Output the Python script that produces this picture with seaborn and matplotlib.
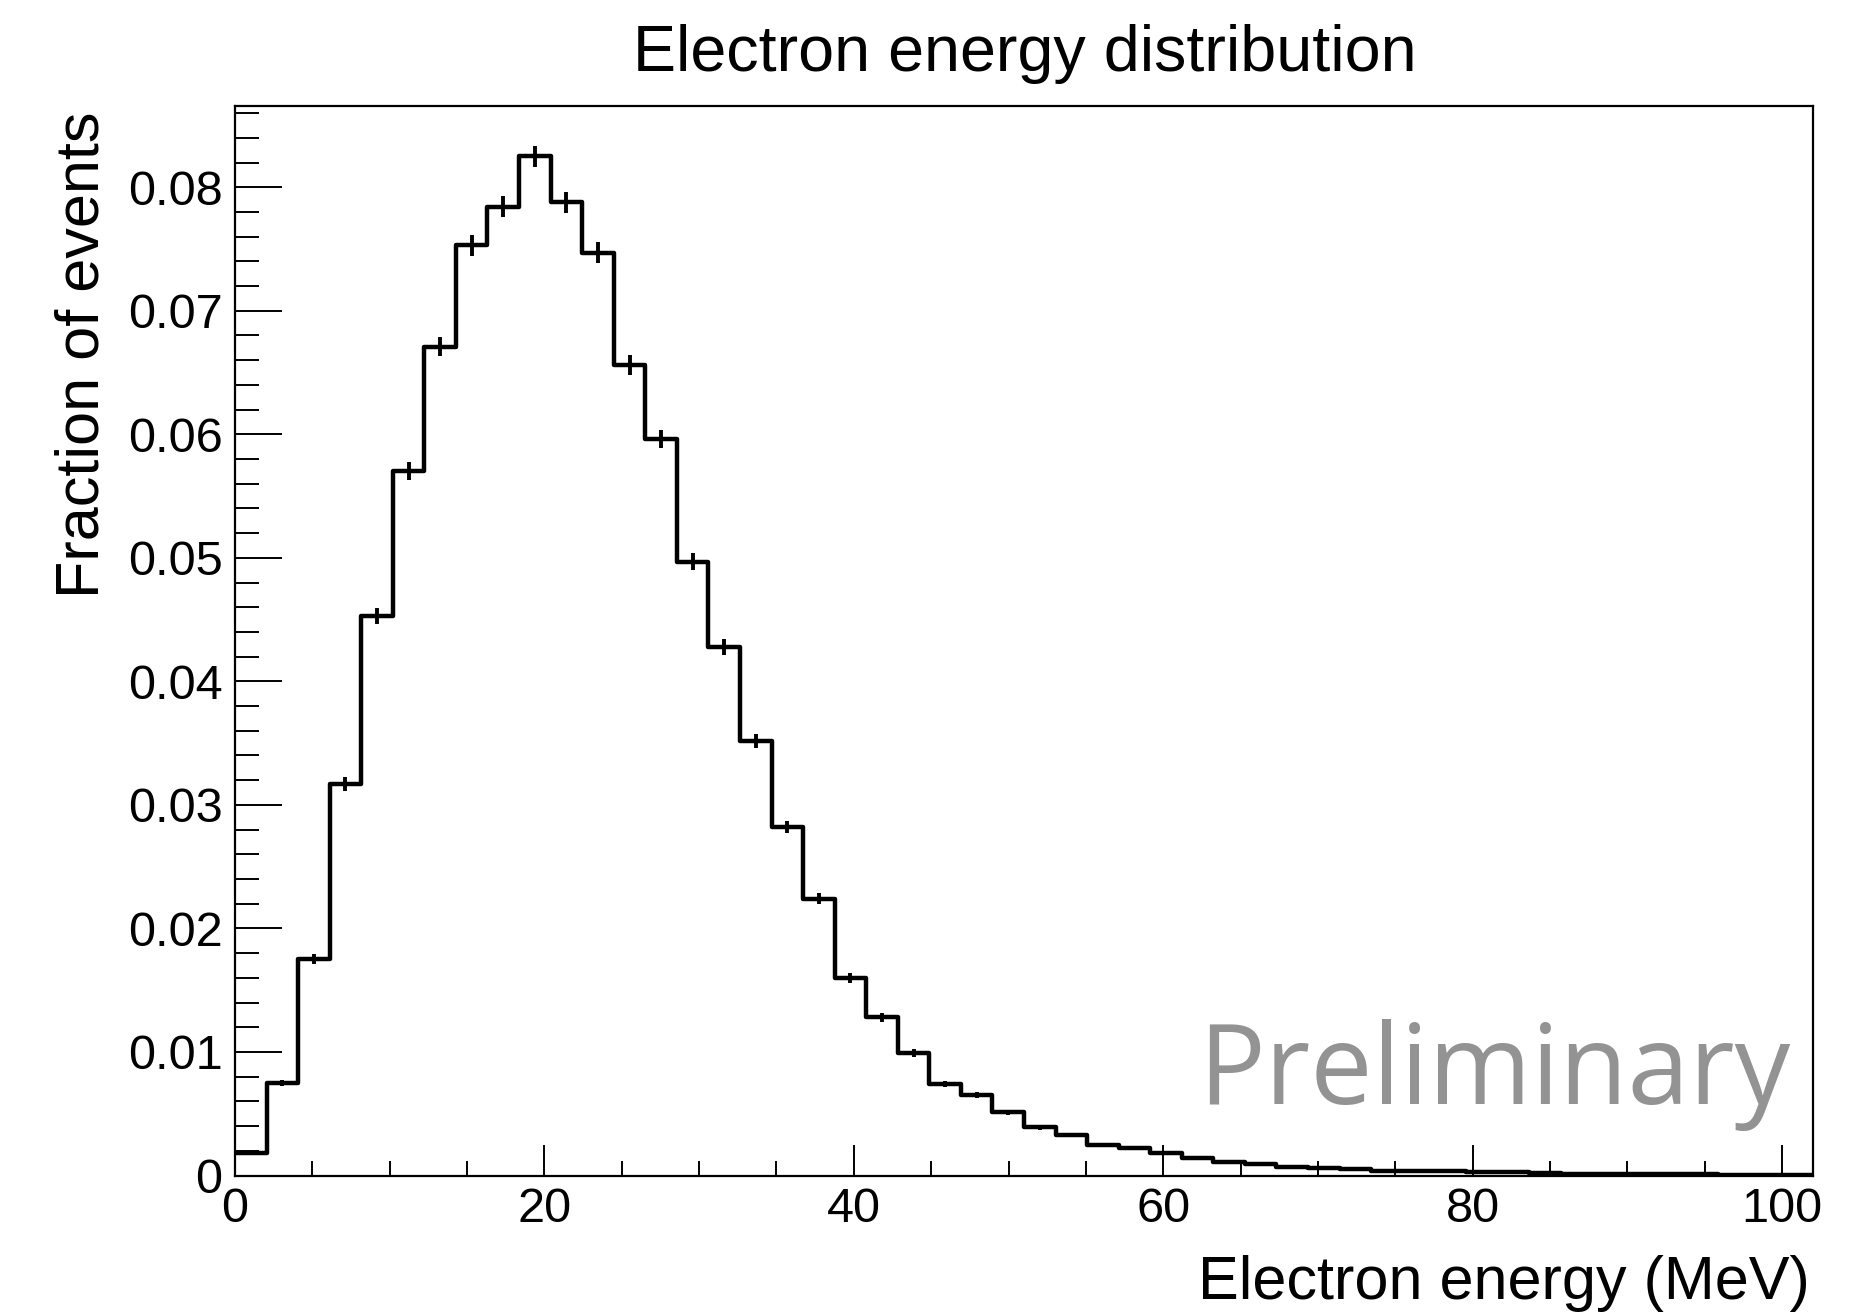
import numpy as np
import pandas as pd
import matplotlib
matplotlib.use("Agg")
import matplotlib.pyplot as plt
from matplotlib.ticker import MultipleLocator, FixedLocator, FixedFormatter
import seaborn as sns

# Histogram binning: 50 bins over 0-102 MeV
x_min, x_max, n_bins = 0.0, 102.0, 50

# Fraction of events per bin
fractions = [
    0.0018, 0.0075, 0.0175, 0.0317, 0.0453, 0.0570, 0.0671, 0.0753, 0.0784, 0.0825,
    0.0788, 0.0747, 0.0656, 0.0596, 0.0497, 0.0428, 0.0352, 0.0282, 0.0224, 0.0160,
    0.0128, 0.0099, 0.0074, 0.0065, 0.0051, 0.0039, 0.0033, 0.0025, 0.0022, 0.0018,
    0.0014, 0.0011, 0.0009, 0.0007, 0.0006, 0.0005, 0.0004, 0.00035, 0.00033, 0.00027,
    0.00025, 0.00018, 0.00016, 0.00014, 0.00012, 0.00010, 0.00009, 0.00008, 0.00007, 0.00006,
]

# Statistical uncertainty per bin
errors = [
    0.00013, 0.00026, 0.00040, 0.00054, 0.00064, 0.00072, 0.00078, 0.00083, 0.00085, 0.00087,
    0.00085, 0.00083, 0.00078, 0.00074, 0.00068, 0.00063, 0.00057, 0.00051, 0.00045, 0.00038,
    0.00034, 0.00030, 0.00026, 0.00024, 0.00022, 0.00019, 0.00017, 0.00015, 0.00014, 0.00013,
    0.00011, 0.00010, 0.00009, 0.00008, 0.00007, 0.00007, 0.00006, 0.00006, 0.00006, 0.00005,
    0.00005, 0.00004, 0.00004, 0.00004, 0.00003, 0.00003, 0.00003, 0.00003, 0.00003, 0.00002,
]

x_ticks = [0, 20, 40, 60, 80, 100]
x_tick_labels = ["0", "20", "40", "60", "80", "100"]
y_ticks = [0, 0.01, 0.02, 0.03, 0.04, 0.05, 0.06, 0.07, 0.08]
y_tick_labels = ["0", "0.01", "0.02", "0.03", "0.04", "0.05", "0.06", "0.07", "0.08"]

title = "Electron energy distribution"
x_label = "Electron energy (MeV)"
y_label = "Fraction of events"
watermark = "Preliminary"

sns.set_style("ticks")
plt.rcParams["font.family"] = ["Liberation Sans", "DejaVu Sans"]

edges = np.linspace(x_min, x_max, n_bins + 1)
centers = 0.5 * (edges[:-1] + edges[1:])
hist_df = pd.DataFrame({"energy": centers, "fraction": fractions, "error": errors})

W, H = 1854, 1312
fig = plt.figure(figsize=(W / 100, H / 100), dpi=100)
ax = fig.add_axes([235 / W, 1 - 1175.5 / H, (1813 - 235) / W, (1175.5 - 105.7) / H])

sns.histplot(data=hist_df, x="energy", weights="fraction", bins=n_bins,
             binrange=(x_min, x_max), element="step", fill=False,
             color="black", linewidth=3.2, ax=ax)
ax.errorbar(hist_df["energy"], hist_df["fraction"], yerr=hist_df["error"], fmt="none",
            ecolor="black", elinewidth=2.8, capsize=0)

ax.set_xlim(x_min, x_max)
ax.set_ylim(0, 0.0866)
ax.set_xlabel("")
ax.set_ylabel("")

ax.xaxis.set_major_locator(FixedLocator(x_ticks))
ax.xaxis.set_major_formatter(FixedFormatter(x_tick_labels))
ax.xaxis.set_minor_locator(MultipleLocator(5))
ax.yaxis.set_major_locator(FixedLocator(y_ticks))
ax.yaxis.set_major_formatter(FixedFormatter(y_tick_labels))
ax.yaxis.set_minor_locator(MultipleLocator(0.002))

ax.tick_params(axis="both", which="both", direction="in", color="black",
               top=False, right=False, labelsize=35, labelcolor="black")
ax.tick_params(axis="x", which="major", length=22, width=1.4, pad=8.2)
ax.tick_params(axis="x", which="minor", length=11, width=1.4)
ax.tick_params(axis="y", which="major", length=34, width=1.4, pad=9)
ax.tick_params(axis="y", which="minor", length=17, width=1.4)

for side in ["left", "right", "top", "bottom"]:
    ax.spines[side].set_visible(True)
    ax.spines[side].set_linewidth(1.6)
    ax.spines[side].set_color("black")

ax.text(0.9854, 0.0664, watermark, transform=ax.transAxes, ha="right", va="baseline",
        fontsize=80, color="#939393", family=["Open Sans", "DejaVu Sans"])

fig.text(1025 / W, 1 - 71 / H, title, ha="center", va="baseline", fontsize=46.5, color="black")
fig.text(1810 / W, 1 - 1299 / H, x_label, ha="right", va="baseline", fontsize=44, color="black")
fig.text(99 / W, 1 - 112 / H, y_label, ha="right", va="baseline", rotation=90,
         rotation_mode="anchor", fontsize=44, color="black")

fig.savefig("out.png", dpi=100, facecolor="white")
